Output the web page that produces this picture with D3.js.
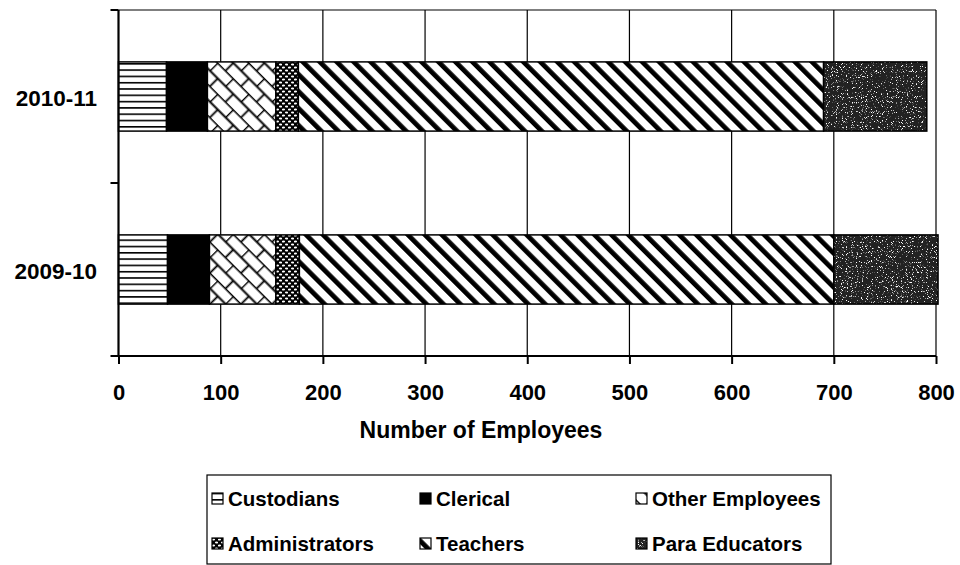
<!DOCTYPE html>
<html>
<head>
<meta charset="utf-8">
<script src="https://cdn.jsdelivr.net/npm/d3@7"></script>
<style>
  body { margin: 0; background: #fff; }
  svg { display: block; font-family: Arial, "Liberation Sans", sans-serif; font-weight: bold; }
</style>
</head>
<body>
<svg id="chart" width="960" height="565"></svg>
<script>
// values
const years = ['2010-11', '2009-10'];
const groups = ['Custodians', 'Clerical', 'Other Employees', 'Administrators', 'Teachers', 'Para Educators'];
const custodians = [47, 48];
const clerical = [40, 41];
const otherEmployees = [67, 65];
const administrators = [22, 23];
const teachers = [514, 523];
const paraEducators = [101, 102];
const xTicks = [0, 100, 200, 300, 400, 500, 600, 700, 800];

const rows = years.map((y, i) => ({
    year: y,
    'Custodians': custodians[i],
    'Clerical': clerical[i],
    'Other Employees': otherEmployees[i],
    'Administrators': administrators[i],
    'Teachers': teachers[i],
    'Para Educators': paraEducators[i]
}));

const svg = d3.select('#chart');
const plotLeft = 118.5, plotRight = 936, plotTop = 10, plotBottom = 356;

const x = d3.scaleLinear().domain([0, 800]).range([plotLeft, plotRight]);
const y = d3.scaleBand().domain(years).range([plotTop, plotBottom]).paddingInner(0.6).paddingOuter(0.3);

// patterns
const defs = svg.append('defs');

const pHoriz = defs.append('pattern').attr('id', 'p-horiz')
    .attr('patternUnits', 'userSpaceOnUse').attr('width', 8).attr('height', 6.3);
pHoriz.append('rect').attr('width', 8).attr('height', 6.3).attr('fill', '#fff');
pHoriz.append('rect').attr('y', 0).attr('width', 8).attr('height', 1.6).attr('fill', '#000');

const pBrick = defs.append('pattern').attr('id', 'p-brick')
    .attr('patternUnits', 'userSpaceOnUse').attr('width', 22).attr('height', 22)
    .attr('patternTransform', 'rotate(45)');
pBrick.append('rect').attr('width', 22).attr('height', 22).attr('fill', '#fff');
pBrick.append('path')
    .attr('d', 'M0,0.5H22 M0,11.5H22 M0.5,0V11 M11.5,11V22')
    .attr('stroke', '#000').attr('stroke-width', 1.8).attr('fill', 'none');

const pDots = defs.append('pattern').attr('id', 'p-dots')
    .attr('patternUnits', 'userSpaceOnUse').attr('width', 6).attr('height', 6);
pDots.append('rect').attr('width', 6).attr('height', 6).attr('fill', '#000');
pDots.append('ellipse').attr('cx', 1.5).attr('cy', 1.5).attr('rx', 1.6).attr('ry', 1).attr('fill', '#fff');
pDots.append('ellipse').attr('cx', 4.5).attr('cy', 4.5).attr('rx', 1.6).attr('ry', 1).attr('fill', '#fff');

const pDiag = defs.append('pattern').attr('id', 'p-diag')
    .attr('patternUnits', 'userSpaceOnUse').attr('width', 12).attr('height', 12)
    .attr('patternTransform', 'rotate(-45)');
pDiag.append('rect').attr('width', 12).attr('height', 12).attr('fill', '#fff');
pDiag.append('rect').attr('width', 4.8).attr('height', 12).attr('fill', '#000');

const noise = defs.append('filter').attr('id', 'f-noise')
    .attr('x', 0).attr('y', 0).attr('width', '100%').attr('height', '100%');
noise.append('feTurbulence').attr('type', 'fractalNoise')
    .attr('baseFrequency', 1.2).attr('numOctaves', 1).attr('seed', 3).attr('result', 'n');
noise.append('feColorMatrix').attr('in', 'n').attr('type', 'matrix')
    .attr('values', '0 0 0 0 1  0 0 0 0 1  0 0 0 0 1  9 0 0 0 -5.4');
const pStip = defs.append('pattern').attr('id', 'p-stip')
    .attr('patternUnits', 'userSpaceOnUse').attr('width', 120).attr('height', 120);
pStip.append('rect').attr('width', 120).attr('height', 120).attr('fill', '#222');
pStip.append('rect').attr('width', 120).attr('height', 120).attr('filter', 'url(#f-noise)');

const fills = {
    'Custodians': 'url(#p-horiz)',
    'Clerical': '#000',
    'Other Employees': 'url(#p-brick)',
    'Administrators': 'url(#p-dots)',
    'Teachers': 'url(#p-diag)',
    'Para Educators': 'url(#p-stip)'
};

// gridlines
svg.append('g').selectAll('line')
    .data(xTicks.slice(1))
    .join('line')
    .attr('x1', d => x(d)).attr('x2', d => x(d))
    .attr('y1', plotTop).attr('y2', plotBottom)
    .attr('stroke', '#000').attr('stroke-width', 1.2);

svg.append('line')
    .attr('x1', plotLeft).attr('x2', plotRight).attr('y1', plotTop).attr('y2', plotTop)
    .attr('stroke', '#000').attr('stroke-width', 1.2);

// bars
const series = d3.stack().keys(groups)(rows);
svg.append('g').selectAll('g')
    .data(series)
    .join('g')
    .attr('fill', d => fills[d.key])
    .selectAll('rect')
    .data(d => d)
    .join('rect')
    .attr('x', d => x(d[0]))
    .attr('width', d => x(d[1]) - x(d[0]))
    .attr('y', d => y(d.data.year))
    .attr('height', y.bandwidth())
    .attr('stroke', '#000').attr('stroke-width', 1.5);

// x axis
const xAxis = svg.append('g')
    .attr('transform', `translate(0,${plotBottom})`)
    .call(d3.axisBottom(x).tickValues(xTicks).tickSize(8).tickPadding(20));
xAxis.select('.domain').attr('stroke-width', 2.2).attr('d', `M${plotLeft - 8},0H${plotRight}`);
xAxis.selectAll('.tick line').attr('stroke-width', 2);
xAxis.selectAll('.tick text')
    .attr('font-size', 22).attr('font-weight', 'bold').attr('fill', '#000')
    .attr('font-family', 'Arial, "Liberation Sans", sans-serif');

// y axis
svg.append('line')
    .attr('x1', plotLeft).attr('x2', plotLeft).attr('y1', plotTop).attr('y2', plotBottom)
    .attr('stroke', '#000').attr('stroke-width', 2.2);
svg.append('g').selectAll('line')
    .data([plotTop, (plotTop + plotBottom) / 2])
    .join('line')
    .attr('x1', plotLeft - 8).attr('x2', plotLeft)
    .attr('y1', d => d).attr('y2', d => d)
    .attr('stroke', '#000').attr('stroke-width', 2);
svg.append('g').selectAll('text')
    .data(years)
    .join('text')
    .attr('x', 97)
    .attr('y', d => y(d) + y.bandwidth() / 2 + 2)
    .attr('dy', '0.35em')
    .attr('text-anchor', 'end')
    .attr('font-size', 22.5)
    .text(d => d);

svg.append('text')
    .attr('x', 481).attr('y', 438)
    .attr('text-anchor', 'middle')
    .attr('font-size', 23)
    .text('Number of Employees');

// legend
svg.append('rect')
    .attr('x', 207).attr('y', 475).attr('width', 624).attr('height', 89)
    .attr('fill', 'none').attr('stroke', '#000').attr('stroke-width', 1.2);

const colX = [212, 420, 636];
const rowY = [499, 544];
const leg = svg.append('g').selectAll('g')
    .data(groups)
    .join('g')
    .attr('transform', (d, i) => `translate(${colX[i % 3]},${rowY[Math.floor(i / 3)]})`);
leg.append('rect')
    .attr('x', 0).attr('y', -6).attr('width', 11).attr('height', 11)
    .attr('fill', d => fills[d]).attr('stroke', '#000').attr('stroke-width', 1.2);
leg.append('text')
    .attr('x', 16).attr('dy', '0.35em')
    .attr('font-size', 20.5)
    .text(d => d);
</script>
</body>
</html>
